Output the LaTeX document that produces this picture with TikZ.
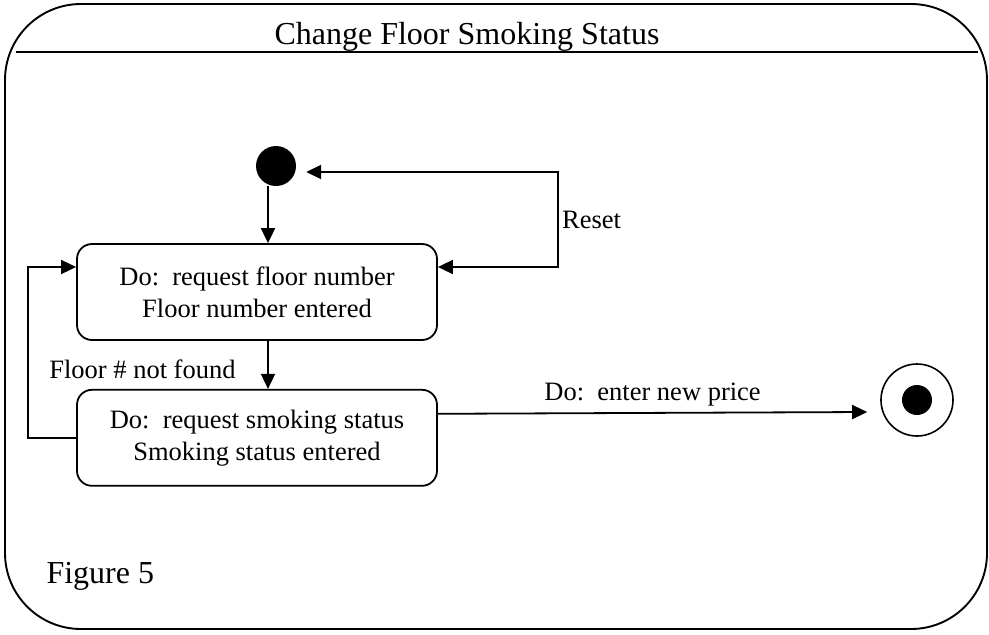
\documentclass[tikz,border=0pt]{standalone}
\usepackage{fontspec}
\setmainfont{Liberation Serif}
\usepackage{tikz}
\usetikzlibrary{arrows.meta,positioning}
\tikzset{
  statebox/.style={
    draw=black,
    rounded corners=15pt,
    fill=white,
    line width=1.8pt,
    align=center,
    minimum width=360pt,
    minimum height=96pt,
    font=\fontsize{26.5}{32}\selectfont
  },
  startdot/.style={
    circle,
    fill=black,
    inner sep=0pt,
    minimum size=40pt
  },
  endring/.style={
    circle,
    draw=black,
    line width=1.6pt,
    inner sep=0pt,
    minimum size=72pt
  },
  enddot/.style={
    circle,
    fill=black,
    inner sep=0pt,
    minimum size=30pt
  },
  transition/.style={
    -{Triangle[length=15pt,width=14pt]},
    line width=1.8pt,
    draw=black
  },
  bothways/.style={
    {Triangle[length=15pt,width=14pt]}-{Triangle[length=15pt,width=14pt]},
    line width=1.8pt,
    draw=black
  },
  guard/.style={
    font=\fontsize{26.5}{32}\selectfont
  },
  heading/.style={
    font=\fontsize{32}{38}\selectfont
  }
}
\begin{document}
\begin{tikzpicture}[x=1pt,y=-1pt]
    \useasboundingbox (0,0) rectangle (989,635);
    % frame of the state machine
    \draw[line width=1.9pt, rounded corners=76pt] (5,4) rectangle (987,629);
    \draw[line width=1.9pt] (16,52) -- (978,52);
    \node[heading, anchor=base] (title) at (467,44) {Change Floor Smoking Status};
    \node[heading, anchor=base west] (figlabel) at (43,583) {Figure 5};
    % states
    \node[startdot] (init) at (276,166) {};
    \node[statebox] (floorbox) at (257,292) {Do:\ \ request floor number\\Floor number entered};
    \node[statebox, below=48pt of floorbox] (smokebox) {Do:\ \ request smoking status\\Smoking status entered};
    \node[endring] (final) at (917,400) {};
    \node[enddot] (finaldot) at (final) {};
    % transitions
    \draw[transition] ([xshift=-8pt]init.south) -- ([xshift=11pt]floorbox.north);
    \draw[transition] ([xshift=11pt]floorbox.south) -- ([xshift=11pt]smokebox.north);
    \draw[bothways] ([yshift=25pt]floorbox.east) -- ++(120,0)
      |- node[guard, right, pos=0.25] {Reset} ([xshift=10pt,yshift=-6pt]init.east);
    \draw[transition] (smokebox.west) -- ++(-48,0)
      |- node[guard, right, pos=0.2, xshift=17pt] {Floor \# not found} ([yshift=25pt]floorbox.west);
    \draw[transition] ([yshift=24pt]smokebox.east) -- node[guard, above, yshift=3pt] {Do:\ \ enter new price} ([xshift=-13pt,yshift=-12pt]final.west);
  \end{tikzpicture}
\end{document}
